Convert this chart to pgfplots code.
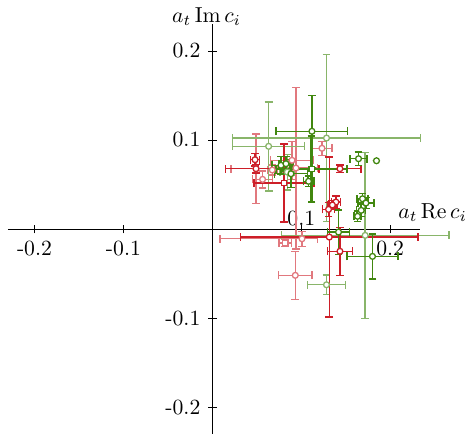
\documentclass[border=0pt]{standalone}
\usepackage{pgfplots}
\usepackage{pgfplotstable}
\pgfplotsset{compat=1.18}
\definecolor{dred}{RGB}{205,30,40}
\definecolor{dgreen}{RGB}{65,135,15}
\colorlet{lred}{dred!60!white}
\colorlet{lgreen}{dgreen!62!white}

\pgfplotstableread{
x y exp exm eyp eym
0.1233 0.0907 0.0112 0.0112 0.0079 0.0079
0.0565 0.0558 0.0112 0.0112 0.0095 0.0095
0.0674 0.0663 0.0056 0.0056 0.0056 0.0056
0.0896 0.0772 0.0244 0.0244 0.0213 0.0213
0.0940 0.0685 0.0244 0.0244 0.0907 0.0907
0.1008 -0.0109 0.0175 0.0922 0.0084 0.0084
0.0933 -0.0520 0.0188 0.0188 0.0270 0.0270
0.0491 0.0678 0.0280 0.0280 0.0390 0.0390
}\lredc
\pgfplotstableread{
x y exp exm eyp eym
0.0820 -0.0157 0.0070 0.0070 0.0040 0.0040
}\lreds
\pgfplotstableread{
x y exp exm eyp eym
0.1284 0.1022 0.1056 0.1056 0.0936 0.0936
0.0633 0.0929 0.0404 0.0404 0.0500 0.0500
0.1719 -0.0071 0.0942 0.0942 0.0933 0.0933
0.1284 -0.0626 0.0212 0.0212 0.0112 0.0112
0.0843 0.0640 0.0080 0.0080 0.0200 0.0200
}\lgreenc
\pgfplotstableread{
x y exp exm eyp eym
0.1435 0.0678 0.0236 0.0236 0.0040 0.0040
0.0491 0.0678 0.0340 0.0340 0.0050 0.0050
0.0480 0.0779 0.0050 0.0050 0.0070 0.0070
0.1315 -0.0090 0.1000 0.1000 0.0900 0.0900
0.1435 -0.0250 0.0140 0.0140 0.0270 0.0270
0.1390 0.0303 0.0050 0.0050 0.0070 0.0070
0.1350 0.0270 0.0050 0.0050 0.0050 0.0050
0.1307 0.0221 0.0070 0.0070 0.0080 0.0080
}\dredc
\pgfplotstableread{
x y exp exm eyp eym
0.0806 0.0517 0.0340 0.0340 0.0440 0.0440
}\dreds
\pgfplotstableread{
x y exp exm eyp eym
0.1120 0.1098 0.0402 0.0402 0.0404 0.0404
0.1419 -0.0034 0.0122 0.0122 0.0250 0.0250
0.1801 -0.0307 0.0287 0.0287 0.0253 0.0253
0.1644 0.0790 0.0094 0.0094 0.0075 0.0075
0.1846 0.0767 0.0000 0.0000 0.0000 0.0000
0.1689 0.0340 0.0060 0.0060 0.0060 0.0060
0.1727 0.0292 0.0090 0.0090 0.0060 0.0060
0.1674 0.0210 0.0050 0.0050 0.0070 0.0070
0.1633 0.0143 0.0040 0.0040 0.0060 0.0060
0.0884 0.0621 0.0187 0.0187 0.0157 0.0157
0.0772 0.0716 0.0100 0.0100 0.0100 0.0100
0.0828 0.0734 0.0080 0.0080 0.0080 0.0080
0.1082 0.0536 0.0060 0.0060 0.0060 0.0060
}\dgreenc
\pgfplotstableread{
x y exp exm eyp eym
0.1116 0.0674 0.0402 0.0402 0.0370 0.0370
}\dgreens

\pgfplotsset{
  errs/.style={color=#1, only marks, mark=*, mark size=0.05pt, forget plot,
    error bars/.cd, x dir=both, x explicit, y dir=both, y explicit,
    error bar style={color=#1, line width=0.65pt, solid},
    error mark options={rotate=90, color=#1, mark size=1.8pt, line width=0.65pt}},
  errsthick/.style={color=#1, only marks, mark=*, mark size=0.05pt, forget plot,
    error bars/.cd, x dir=both, x explicit, y dir=both, y explicit,
    error bar style={color=#1, line width=1.0pt, solid},
    error mark options={rotate=90, color=#1, mark size=1.8pt, line width=0.8pt}},
  cmk/.style={color=#1, only marks, mark=*, mark size=1.35pt, mark options={draw=#1, fill=white, line width=0.6pt, solid}},
  smk/.style={color=#1, only marks, mark=square*, mark size=1.25pt, mark options={draw=#1, fill=white, line width=0.6pt, solid}},
}

\begin{document}
\begin{tikzpicture}
\begin{axis}[
  scale only axis, width=190pt, height=189pt,
  axis lines=middle, axis line style={black, thin, -},
  xmin=-0.23, xmax=0.233, ymin=-0.23, ymax=0.23,
  xtick={-0.2,-0.1,0.2}, xticklabels={-0.2,-0.1,0.2},
  extra x ticks={0.1}, extra x tick labels={0.1},
  extra x tick style={tick label style={anchor=south}},
  ytick={-0.2,-0.1,0.1,0.2}, yticklabels={-0.2,-0.1,0.1,0.2},
  tick align=center, major tick length=4pt, tick style={black, thin},
  xlabel={$a_t\,\mathrm{Re}\,c_i$}, ylabel={$a_t\,\mathrm{Im}\,c_i$},
  x label style={at={(axis cs:0.233,0)}, anchor=south, xshift=6pt},
  y label style={at={(axis cs:0,0.23)}, anchor=south, xshift=-2.7pt, yshift=-4pt},
  clip=false,
]
% light series
\addplot[errs=lred] table[x=x, y=y, x error plus=exp, x error minus=exm, y error plus=eyp, y error minus=eym]{\lredc};
\addplot[errs=lred] table[x=x, y=y, x error plus=exp, x error minus=exm, y error plus=eyp, y error minus=eym]{\lreds};
\addplot[errs=lgreen] table[x=x, y=y, x error plus=exp, x error minus=exm, y error plus=eyp, y error minus=eym]{\lgreenc};
\addplot[cmk=lred] table[x=x,y=y]{\lredc};
\addplot[smk=lred] table[x=x,y=y]{\lreds};
\addplot[cmk=lgreen] table[x=x,y=y]{\lgreenc};
% dark series
\addplot[errs=dred] table[x=x, y=y, x error plus=exp, x error minus=exm, y error plus=eyp, y error minus=eym]{\dredc};
\addplot[errsthick=dred] table[x=x, y=y, x error plus=exp, x error minus=exm, y error plus=eyp, y error minus=eym]{\dreds};
\addplot[errs=dgreen] table[x=x, y=y, x error plus=exp, x error minus=exm, y error plus=eyp, y error minus=eym]{\dgreenc};
\addplot[errsthick=dgreen] table[x=x, y=y, x error plus=exp, x error minus=exm, y error plus=eyp, y error minus=eym]{\dgreens};
\addplot[cmk=dred] table[x=x,y=y]{\dredc};
\addplot[smk=dred] table[x=x,y=y]{\dreds};
\addplot[cmk=dgreen] table[x=x,y=y]{\dgreenc};
\addplot[smk=dgreen] table[x=x,y=y]{\dgreens};
\end{axis}
\path ([shift={(-3.6pt,-2.7pt)}]current axis.south west);
\end{tikzpicture}
\end{document}
